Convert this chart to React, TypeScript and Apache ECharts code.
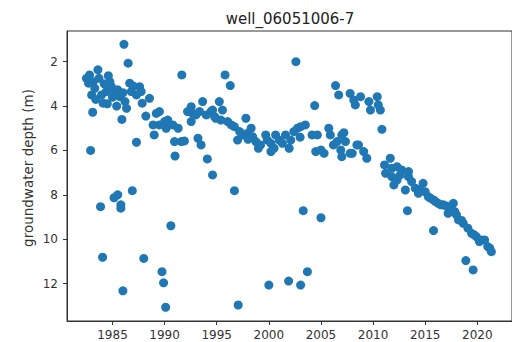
import React, { useEffect, useRef } from "react";
import * as echarts from "echarts";

const chartTitle = "well_06051006-7";
const yLabel = "groundwater depth (m)";
const xTicks = [1985, 1990, 1995, 2000, 2005, 2010, 2015, 2020];
const yTicks = [2, 4, 6, 8, 10, 12];

const band1980s: [number, number][] = [
  [1982.5, 2.75], [1982.8, 2.6], [1982.7, 2.97], [1983.15, 2.9], [1983.3, 3.2], [1983.0, 3.5],
  [1983.6, 2.37], [1983.7, 2.75], [1983.95, 3.5], [1984.1, 3.87], [1984.4, 3.35], [1984.6, 2.63],
  [1984.75, 2.9], [1984.9, 3.13], [1985.2, 3.35], [1985.5, 3.27], [1985.7, 3.58], [1986.2, 3.8],
  [1986.35, 4.1], [1986.65, 2.97], [1986.8, 3.35], [1987.3, 3.5], [1987.6, 3.13], [1987.75, 3.35],
  [1987.85, 3.87], [1988.55, 3.65], [1983.1, 4.28], [1985.9, 4.6], [1988.2, 4.45], [1988.9, 4.85],
  [1989.2, 4.33], [1989.5, 4.25], [1989.5, 4.85], [1986.1, 1.22], [1986.5, 2.07], [1982.9, 6.0],
  [1987.3, 5.63], [1989.0, 5.3], [1983.4, 3.7], [1984.2, 3.0], [1985.0, 3.6], [1985.4, 4.0],
  [1984.5, 3.9], [1986.0, 3.4], [1987.0, 3.1],
];

const band1990s: [number, number][] = [
  [1990.0, 4.7], [1990.3, 4.63], [1990.15, 5.0], [1990.8, 4.85], [1991.3, 5.0], [1990.95, 5.6],
  [1991.6, 5.6], [1991.9, 5.57], [1991.0, 6.25], [1991.65, 2.6], [1992.2, 4.25], [1992.55, 4.03],
  [1992.7, 4.33], [1992.55, 4.7], [1993.0, 4.4], [1993.35, 4.25], [1993.65, 3.8], [1994.0, 4.4],
  [1994.45, 4.25], [1994.9, 4.55], [1993.2, 5.45], [1993.5, 5.75], [1994.1, 6.38], [1994.6, 7.1],
  [1994.6, 4.18], [1994.8, 4.48], [1995.25, 3.8], [1995.55, 4.18], [1995.4, 4.63], [1996.05, 4.7],
  [1996.4, 4.85], [1996.7, 4.93], [1995.8, 2.6], [1996.3, 3.08],
];

const band2000s: [number, number][] = [
  [1997.8, 4.55], [1997.2, 5.15], [1997.0, 5.53], [1997.5, 5.3], [1997.95, 5.23], [1998.3, 5.0],
  [1998.45, 5.38], [1998.75, 5.6], [1999.2, 5.75], [1999.7, 5.3], [1999.85, 5.53], [2000.2, 5.68],
  [2000.2, 6.05], [2000.65, 5.3], [2001.0, 5.53], [2001.3, 5.68], [2001.6, 5.3], [2001.95, 5.9],
  [2002.1, 5.53], [2002.4, 5.15], [2002.75, 5.0], [2003.05, 4.93], [2003.5, 4.85], [2004.15, 5.3],
  [2004.65, 5.3], [2004.5, 6.05], [2005.0, 5.98], [2005.3, 6.13], [2005.75, 5.0], [2005.9, 5.3],
  [2006.2, 5.75], [2006.55, 5.6], [2002.6, 2.0], [2004.4, 3.98], [1998.0, 5.5], [1999.0, 5.9],
  [2000.5, 5.9], [2003.0, 5.4],
];

const band2010s: [number, number][] = [
  [2006.4, 3.08], [2006.7, 3.5], [2007.8, 3.43], [2008.15, 3.73], [2008.3, 3.95], [2008.8, 3.58],
  [2009.6, 3.8], [2009.75, 4.18], [2010.4, 3.58], [2010.7, 4.18], [2010.5, 3.95], [2010.85, 5.05],
  [2007.0, 5.3], [2007.35, 5.6], [2007.0, 6.28], [2008.0, 6.13], [2008.45, 5.75], [2006.9, 5.98],
  [2008.6, 5.75], [2009.1, 6.05], [2009.4, 6.35], [2011.65, 6.35], [2007.2, 5.2], [2007.8, 6.13],
];

const decline: [number, number][] = [
  [2011.1, 6.65], [2011.8, 6.8], [2012.3, 6.73], [2012.75, 6.88], [2013.4, 6.95], [2011.2, 7.03],
  [2011.8, 7.18], [2012.3, 7.33], [2012.0, 7.55], [2012.6, 7.1], [2013.1, 7.78], [2013.4, 7.18],
  [2013.7, 7.4], [2014.05, 7.7], [2014.35, 7.93], [2014.8, 7.48], [2015.0, 7.86], [2015.3, 8.08],
  [2015.8, 8.23], [2016.25, 8.38], [2016.75, 8.45], [2017.2, 8.83], [2017.7, 8.38], [2017.85, 8.76],
  [2018.2, 9.13], [2018.65, 9.28], [2019.1, 9.5], [2019.45, 9.73], [2019.9, 9.88], [2020.4, 10.03],
  [2020.7, 10.03], [2021.0, 10.33], [2021.35, 10.56], [2014.5, 7.75], [2015.5, 8.15], [2016.0, 8.3],
  [2016.5, 8.45], [2017.0, 8.5], [2017.5, 8.6], [2018.0, 8.9], [2018.5, 9.15], [2019.7, 9.8],
  [2020.2, 10.1], [2021.2, 10.4],
];

const outliers: [number, number][] = [
  [1985.15, 8.13], [1985.5, 8.0], [1986.9, 7.81], [1983.85, 8.53], [1985.8, 8.45], [1985.8, 8.6],
  [1990.6, 9.39], [1984.05, 10.81], [1988.0, 10.86], [1989.75, 11.46], [1989.9, 11.96], [1986.0, 12.32],
  [1990.1, 13.06], [1996.7, 7.81], [2003.3, 8.71], [2005.0, 9.03], [2003.7, 11.46], [2001.9, 11.88],
  [2000.0, 12.06], [2003.05, 12.06], [1997.06, 12.96], [2013.3, 8.71], [2015.8, 9.61], [2018.9, 10.96],
  [2019.6, 11.38],
];

const allPoints = [...band1980s, ...band1990s, ...band2000s, ...band2010s, ...decline, ...outliers];

const FONT = "DejaVu Sans";
const INK = "#333";

export default function App() {
  const ref = useRef<HTMLDivElement>(null);
  useEffect(() => {
    if (!ref.current) return;
    const chart = echarts.init(ref.current, undefined, { renderer: "svg" });
    chart.setOption({
      animation: false,
      backgroundColor: "#fff",
      grid: {
        left: 67, top: 31, width: 447, height: 290,
        show: true, borderColor: INK, borderWidth: 1, backgroundColor: "transparent",
      },
      xAxis: {
        type: "value", min: 1980.635, max: 2023.33,
        splitLine: { show: false },
        axisLine: { show: true, lineStyle: { color: INK } },
        axisTick: { show: true, length: 4, inside: false, customValues: xTicks, lineStyle: { color: INK } },
        axisLabel: {
          customValues: xTicks, color: INK, fontFamily: FONT, fontSize: 12, margin: 8,
          formatter: (v: number) => String(Math.round(v)),
        },
      },
      yAxis: {
        type: "value", inverse: true, min: 0.62, max: 13.68,
        splitLine: { show: false },
        axisLine: { show: true, lineStyle: { color: INK } },
        axisTick: { show: true, length: 4, inside: false, customValues: yTicks, lineStyle: { color: INK } },
        axisLabel: {
          customValues: yTicks, color: INK, fontFamily: FONT, fontSize: 12, margin: 9,
          formatter: (v: number) => String(Math.round(v)),
        },
      },
      graphic: [
        {
          type: "text", x: 290, y: 19,
          style: { text: chartTitle, fill: "#222", font: `15px ${FONT}`, textAlign: "center", textVerticalAlign: "middle" },
        },
        {
          type: "text", x: 28, y: 168, rotation: Math.PI / 2,
          style: { text: yLabel, fill: INK, font: `13.5px ${FONT}`, textAlign: "center", textVerticalAlign: "middle" },
        },
      ],
      series: [
        {
          type: "scatter",
          data: allPoints,
          symbolSize: 9,
          itemStyle: { color: "#1f77b4", opacity: 1 },
        },
      ],
    });
    return () => chart.dispose();
  }, []);
  return <div ref={ref} style={{ position: "fixed", left: 0, top: 0, width: 512, height: 342 }} />;
}
